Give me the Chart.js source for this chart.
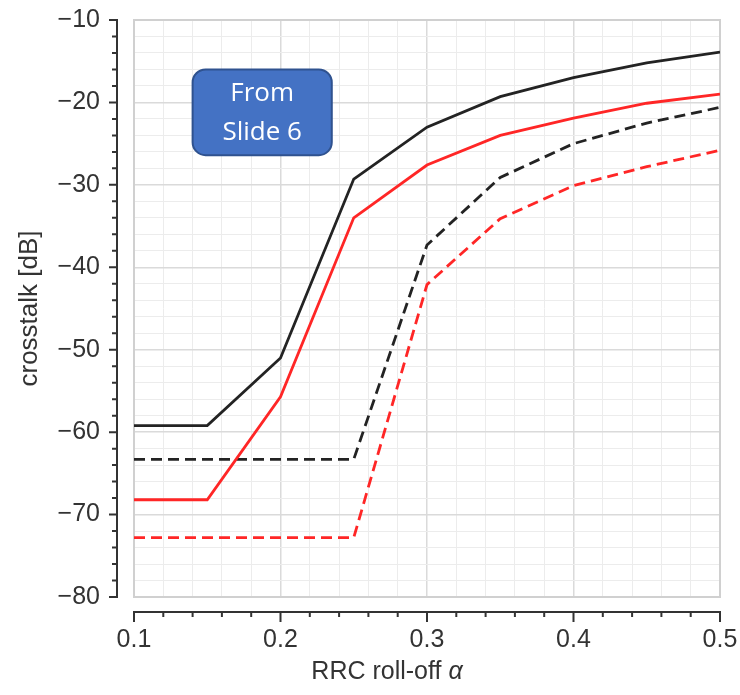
<!DOCTYPE html>
<html>
<head>
<meta charset="utf-8">
<script src="https://cdn.jsdelivr.net/npm/chart.js@4.4.1/dist/chart.umd.min.js"></script>
<style>
  html, body { margin: 0; padding: 0; background: #fff; }
  #wrap { width: 740px; height: 695px; }
</style>
</head>
<body>
<div id="wrap"><canvas id="crosstalk-chart"></canvas></div>
<script>
// ------------------------------------------------------
// @Data
// ------------------------------------------------------
const alphas      = [0.1, 0.15, 0.2, 0.25, 0.3, 0.35, 0.4, 0.45, 0.5];
const blackSolid  = [-59.2, -59.2, -51.0, -29.3, -23.0, -19.3, -17.0, -15.2, -13.9];
const redSolid    = [-68.2, -68.2, -55.7, -34.0, -27.6, -24.0, -21.9, -20.1, -19.0];
const blackDashed = [-63.3, -63.3, -63.3, -63.3, -37.3, -29.1, -25.0, -22.5, -20.6];
const redDashed   = [-72.8, -72.8, -72.8, -72.8, -42.1, -34.1, -30.1, -27.8, -25.8];

const xTickLabels = [0.1, 0.2, 0.3, 0.4, 0.5];
const yTickLabels = [-80, -70, -60, -50, -40, -30, -20, -10];

const FONT = '"Liberation Sans", Arial, sans-serif';
const TEXT = '#333';
const BLACK = '#232323';
const RED = '#ff2626';

const isMajorX = v => xTickLabels.some(t => Math.abs(t - v) < 1e-9);
const isMajorY = v => yTickLabels.some(t => Math.abs(t - v) < 1e-9);
const pts = ys => alphas.map((a, i) => ({ x: a, y: ys[i] }));

// ------------------------------------------------------
// @Offset axes, frame and note box
// ------------------------------------------------------
const decorPlugin = {
  id: 'decor',
  beforeDatasetsDraw(chart) {
    const { ctx, chartArea: a } = chart;
    ctx.save();
    ctx.strokeStyle = '#d0d0d0';
    ctx.lineWidth = 2;
    ctx.strokeRect(a.left, a.top, a.right - a.left, a.bottom - a.top);
    ctx.restore();
  },
  afterDraw(chart) {
    const { ctx, chartArea: a, scales: { x, y } } = chart;
    ctx.save();
    ctx.strokeStyle = '#333';
    ctx.lineWidth = 2;

    // y spine
    const sx = a.left - 17;
    ctx.beginPath();
    ctx.moveTo(sx, y.getPixelForValue(-10));
    ctx.lineTo(sx, y.getPixelForValue(-80));
    y.ticks.forEach(t => {
      const py = y.getPixelForValue(t.value);
      ctx.moveTo(sx + 1, py);
      ctx.lineTo(sx - (isMajorY(t.value) ? 8 : 5), py);
    });
    ctx.stroke();

    // x spine
    const sy = a.bottom + 15;
    ctx.beginPath();
    ctx.moveTo(x.getPixelForValue(0.1), sy);
    ctx.lineTo(x.getPixelForValue(0.5), sy);
    x.ticks.forEach(t => {
      const px = x.getPixelForValue(t.value);
      ctx.moveTo(px, sy - 1);
      ctx.lineTo(px, sy + (isMajorX(t.value) ? 10 : 5));
    });
    ctx.stroke();

    // x title with italic alpha
    const main = 'RRC roll-off ';
    ctx.font = '25px ' + FONT;
    const w1 = ctx.measureText(main).width;
    ctx.font = 'italic 25px ' + FONT;
    const w2 = ctx.measureText('α').width;
    const cx = (a.left + a.right) / 2 - 40;
    const ty = a.bottom + 75;
    ctx.fillStyle = TEXT;
    ctx.textBaseline = 'middle';
    ctx.textAlign = 'left';
    ctx.font = '25px ' + FONT;
    ctx.fillText(main, cx - (w1 + w2) / 2, ty);
    ctx.font = 'italic 25px ' + FONT;
    ctx.fillText('α', cx - (w1 + w2) / 2 + w1, ty);

    // "From Slide 6" note
    const bx0 = x.getPixelForValue(0.14), bx1 = x.getPixelForValue(0.235);
    const by0 = y.getPixelForValue(-16), by1 = y.getPixelForValue(-26.4);
    ctx.beginPath();
    ctx.roundRect(bx0, by0, bx1 - bx0, by1 - by0, 13);
    ctx.fillStyle = '#4472c4';
    ctx.fill();
    ctx.strokeStyle = '#2f528f';
    ctx.lineWidth = 2;
    ctx.stroke();
    ctx.fillStyle = '#fff';
    ctx.textAlign = 'center';
    ctx.font = '26px "Open Sans", sans-serif';
    ctx.fillText('From', (bx0 + bx1) / 2, by0 + 24);
    ctx.fillText('Slide 6', (bx0 + bx1) / 2, by0 + 63);
    ctx.restore();
  }
};

// ------------------------------------------------------
// @Line Chart
// ------------------------------------------------------
const box = document.getElementById('crosstalk-chart');

new Chart(box.getContext('2d'), {
  type: 'line',
  data: {
    datasets: [
      { data: pts(blackSolid),  borderColor: BLACK, borderWidth: 2.8 },
      { data: pts(redSolid),    borderColor: RED,   borderWidth: 2.8 },
      { data: pts(blackDashed), borderColor: BLACK, borderWidth: 2.8, borderDash: [11, 6] },
      { data: pts(redDashed),   borderColor: RED,   borderWidth: 2.8, borderDash: [11, 6] },
    ],
  },
  options: {
    responsive: true,
    maintainAspectRatio: false,
    animation: false,
    layout: { padding: { top: 20, right: 20, bottom: 0, left: 0 } },
    elements: { point: { radius: 0 }, line: { tension: 0 } },
    plugins: { legend: { display: false }, tooltip: { enabled: false } },
    scales: {
      x: {
        type: 'linear',
        min: 0.1,
        max: 0.5,
        border: { display: false },
        grid: {
          drawTicks: false,
          color: c => isMajorX(c.tick.value) ? '#dadada' : '#ececec',
          lineWidth: c => isMajorX(c.tick.value) ? 1.5 : 1,
        },
        ticks: {
          stepSize: 0.02,
          autoSkip: false,
          maxRotation: 0,
          padding: 28,
          color: TEXT,
          font: { family: FONT, size: 25 },
          callback: v => isMajorX(v) ? v.toFixed(1) : '',
        },
        afterFit: s => { s.height = 98; s.paddingLeft = 0; s.paddingRight = 0; },
      },
      y: {
        min: -80,
        max: -10,
        border: { display: false },
        grid: {
          drawTicks: false,
          color: c => isMajorY(c.tick.value) ? '#dadada' : '#ececec',
          lineWidth: c => isMajorY(c.tick.value) ? 1.5 : 1,
        },
        ticks: {
          stepSize: 2,
          autoSkip: false,
          padding: 34,
          color: TEXT,
          font: { family: FONT, size: 25 },
          callback: v => isMajorY(v) ? '\u2212' + Math.abs(v) : '',
        },
        title: {
          display: true,
          text: 'crosstalk [dB]',
          color: TEXT,
          font: { family: FONT, size: 26 },
          padding: { top: 14, bottom: 0 },
        },
        afterFit: s => { s.width = 134; s.paddingTop = 0; s.paddingBottom = 0; },
      },
    },
  },
  plugins: [decorPlugin],
});
</script>
</body>
</html>
